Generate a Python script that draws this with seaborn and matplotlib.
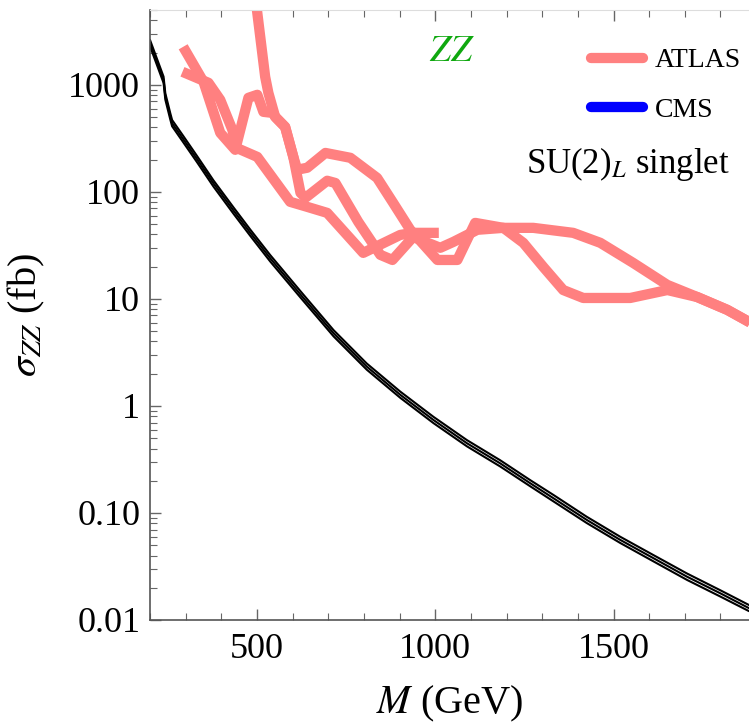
import matplotlib
matplotlib.use("Agg")
import matplotlib.pyplot as plt
from matplotlib.lines import Line2D
from matplotlib.ticker import MultipleLocator, LogLocator, NullFormatter
import seaborn as sns
import pandas as pd

# ---------------- data ----------------
# theory prediction (SU(2)_L singlet): central value and the two band edges
mass_th = [200, 238, 243, 257, 262, 294, 332, 378, 434, 481, 537, 622, 715, 808,
           902, 995, 1089, 1182, 1267, 1332, 1425, 1519, 1612, 1706, 1799, 1880]
sigma_th = [2455, 1114, 778, 506, 438, 308, 202, 120, 67.0, 41.6, 24.0, 11.0, 4.77,
            2.33, 1.27, 0.739, 0.448, 0.291, 0.189, 0.137, 0.0861, 0.056, 0.0378,
            0.0254, 0.0178, 0.0129]
sigma_th_hi = [2627, 1192, 832, 541, 469, 330, 216, 128, 71.7, 44.5, 25.7, 11.8, 5.10,
               2.49, 1.36, 0.791, 0.479, 0.311, 0.202, 0.147, 0.0921, 0.0599, 0.0404,
               0.0272, 0.0190, 0.0138]
sigma_th_lo = [2295, 1042, 727, 473, 410, 288, 189, 112, 62.6, 38.9, 22.4, 10.3, 4.46,
               2.18, 1.19, 0.691, 0.419, 0.272, 0.177, 0.128, 0.0805, 0.0524, 0.0353,
               0.0237, 0.0166, 0.0121]

# ATLAS observed limits
atlas_a_mass = [293, 350, 397, 439, 476, 501, 518, 543, 554, 579, 602, 622, 636, 697,
                720, 784, 846, 880, 938, 1014, 1051, 1118, 1191, 1275, 1387, 1463,
                1555, 1651, 1735, 1819, 1900]
atlas_a_sigma = [2265, 1067, 356, 247, 756, 807, 559, 547, 492, 404, 212, 98, 88, 127,
                 121, 52.5, 25.8, 23.1, 37.9, 30.0, 34.1, 44.2, 46.1, 46.1, 41.4, 33.4,
                 21.7, 13.5, 10.4, 7.9, 5.6]

atlas_b_mass = [291, 364, 397, 431, 442, 501, 593, 641, 697, 798, 902, 938, 1010]
atlas_b_sigma = [1323, 1044, 724, 380, 258, 212, 80.7, 72.4, 63.6, 26.9, 39.6, 41.4, 41.4]

atlas_c_mass = [497, 523, 532, 551, 579, 602, 613, 641, 692, 762, 837, 882, 930, 1006,
                1062, 1112, 1191, 1247, 1303, 1359, 1415, 1547, 1651, 1735, 1819, 1900]
atlas_c_sigma = [6000, 1188, 841, 502, 404, 212, 161, 168, 231, 208, 135, 78.9, 44.2,
                 23.1, 23.1, 51.3, 46.1, 33.4, 19.9, 12.1, 10.2, 10.2, 12.1, 10.4, 7.9,
                 5.6]

y_ticks = [0.01, 0.1, 1, 10, 100, 1000]
y_tick_labels = ["0.01", "0.10", "1", "10", "100", "1000"]
x_ticks = [500, 1000, 1500]

ATLAS_COLOR = "#FF8080"
CMS_COLOR = "#0000FF"

# ---------------- style ----------------
sns.set_style("ticks")
plt.rcParams["font.family"] = ["Liberation Serif", "DejaVu Serif"]
plt.rcParams["mathtext.fontset"] = "stix"
plt.rcParams["text.color"] = "black"
plt.rcParams["axes.labelcolor"] = "black"
plt.rcParams["xtick.labelcolor"] = "black"
plt.rcParams["ytick.labelcolor"] = "black"

fig = plt.figure(figsize=(7.49, 7.24), dpi=100)
ax = fig.add_axes([150 / 749, 1 - 620 / 724, 599 / 749, 610 / 724])

line_kw = dict(sort=False, estimator=None, legend=False, ax=ax)

for ys in [sigma_th_hi, sigma_th_lo, sigma_th]:
    df = pd.DataFrame({"M": mass_th, "sigma": ys})
    sns.lineplot(data=df, x="M", y="sigma", color="black", lw=1.5,
                 solid_joinstyle="round", **line_kw)

for ms, ss in [(atlas_b_mass, atlas_b_sigma), (atlas_a_mass, atlas_a_sigma),
               (atlas_c_mass, atlas_c_sigma)]:
    df = pd.DataFrame({"M": ms, "sigma": ss})
    sns.lineplot(data=df, x="M", y="sigma", color=ATLAS_COLOR, lw=7.4,
                 solid_joinstyle="round", solid_capstyle="butt", **line_kw)

ax.set_yscale("log")
ax.set_xlim(200, 1880)
ax.set_ylim(0.01, 5000)

ax.set_xticks(x_ticks)
ax.xaxis.set_minor_locator(MultipleLocator(100))
ax.set_yticks(y_ticks, y_tick_labels)
ax.yaxis.set_minor_locator(LogLocator(base=10, subs=range(2, 10)))
ax.yaxis.set_minor_formatter(NullFormatter())

ax.tick_params(axis="both", which="both", direction="in", top=True, right=False,
               color="#666666", labelcolor="black", labelsize=26)
ax.tick_params(axis="both", which="major", length=8, width=1.0)
ax.tick_params(axis="both", which="minor", length=5, width=0.8)
ax.tick_params(axis="y", pad=7)
ax.tick_params(axis="x", pad=9)

for side in ["left", "bottom"]:
    ax.spines[side].set_color("#555555")
    ax.spines[side].set_linewidth(1.2)
ax.spines["top"].set_color("#dddddd")
ax.spines["top"].set_linewidth(0.8)
ax.spines["right"].set_visible(False)

ax.set_xlabel(r"$M$ (GeV)", fontsize=29, color="black")
ax.set_ylabel(r"$\sigma_{ZZ}$ (fb)", fontsize=29, color="black")
ax.xaxis.set_label_coords(0.5, -0.105)
ax.yaxis.set_label_coords(-0.172, 0.5)

ax.text(1048, 2030, r"$ZZ$", color="#0fa80f", fontsize=27, ha="center", va="center")
ax.text(0.968, 0.733, r"SU(2)$_L$ singlet", transform=ax.transAxes, fontsize=25,
        ha="right", va="baseline", color="black")

handles = [Line2D([], [], color=ATLAS_COLOR, lw=7.4),
           Line2D([], [], color=CMS_COLOR, lw=7.4)]
leg = ax.legend(handles, ["ATLAS", "CMS"], loc="upper left",
                bbox_to_anchor=(0.736, 0.938), frameon=False, fontsize=20,
                handlelength=1.87, handletextpad=0.43, labelspacing=0.87,
                borderpad=0, borderaxespad=0)
for t in leg.get_texts():
    t.set_color("black")

fig.savefig("out.png", dpi=100)
